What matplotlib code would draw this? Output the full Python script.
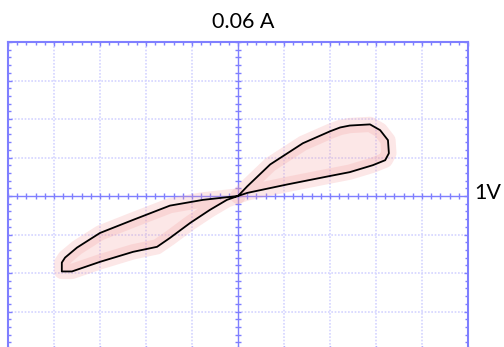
import matplotlib.pyplot as plt
import numpy as np

# loop (x in V divisions, y in A divisions)
q1_x = [0, 0.2, 0.7, 1.41, 2.0, 2.22, 2.43, 2.87, 3.09, 3.26, 3.28, 3.20, 2.93, 2.43, 2.0, 1.07, 0.2, 0]
q1_y = [0, 0.25, 0.82, 1.37, 1.68, 1.78, 1.83, 1.86, 1.71, 1.45, 1.11, 0.93, 0.80, 0.62, 0.52, 0.30, 0.08, 0]
q3_x = [0, -0.76, -1.48, -2.28, -3.0, -3.5, -3.76, -3.83, -3.83, -3.61, -3.0, -2.28, -1.76, -1.48, -1.04, -0.61, -0.24, 0]
q3_y = [0, -0.10, -0.25, -0.62, -0.96, -1.34, -1.60, -1.73, -1.96, -1.96, -1.71, -1.45, -1.32, -1.09, -0.70, -0.36, -0.10, 0]

grid_blue = '#d4d4ff'
axis_blue = '#7f7fff'
pink = '#f4a0a0'

fig = plt.figure(figsize=(5.04, 3.47), dpi=100)
ax = fig.add_axes([8/504, -3/347, 460/504, 308/347])
ax.set_xlim(-5, 5)
ax.set_ylim(-4, 4)

# dotted grid
for gx in range(-4, 5):
    if gx != 0:
        ax.axvline(gx, color=grid_blue, lw=1.2, ls=(0, (1, 1)), zorder=1)
for gy in range(-3, 4):
    if gy != 0:
        ax.axhline(gy, color=grid_blue, lw=1.2, ls=(0, (1, 1)), zorder=1)

# centre axes with sub-division ticks
ax.axhline(0, color=axis_blue, lw=1, zorder=2)
ax.axvline(0, color=axis_blue, lw=1, zorder=2)
sub_x = np.arange(-5, 5.01, 0.2)
sub_y = np.arange(-4, 4.01, 0.2)
ax.plot(sub_x, np.zeros_like(sub_x), ls='none', marker='|', ms=4, mew=1, color=axis_blue, zorder=2)
ax.plot(np.zeros_like(sub_y), sub_y, ls='none', marker='_', ms=4, mew=1, color=axis_blue, zorder=2)

# noisy sample cloud shown as a soft pink band
for xs, ys in [(q1_x, q1_y), (q3_x, q3_y)]:
    ax.fill(xs, ys, color=pink, alpha=0.25, lw=0, zorder=3)
    ax.plot(xs, ys, color=pink, lw=11, alpha=0.25, solid_capstyle='round', zorder=3)
    ax.plot(xs, ys, color='black', lw=1.3, zorder=4)

for s in ax.spines.values():
    s.set_color(axis_blue)
    s.set_linewidth(1.5)
ax.set_xticks(range(-5, 6))
ax.set_yticks(range(-4, 5))
ax.set_xticks(sub_x, minor=True)
ax.set_yticks(sub_y, minor=True)
ax.tick_params(which='both', direction='in', colors=axis_blue, labelbottom=False, labelleft=False,
               top=True, right=True, length=3, width=1)
ax.tick_params(which='minor', length=2)

fig.text(243/504, 1 - 22/347, '0.06 A', ha='center', va='center', fontsize=15.5, family='Lato')
fig.text(474/504, 1 - 193/347, '1V', ha='left', va='center', fontsize=15.5, family='Lato')

plt.savefig('out.png', dpi=100)
